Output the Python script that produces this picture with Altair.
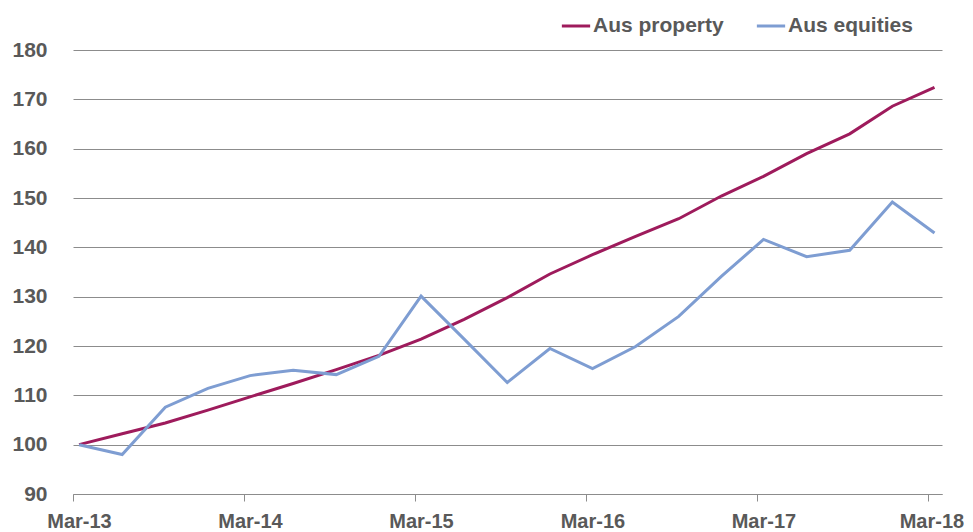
import altair as alt
import pandas as pd

dates = [
    "2013-03-14", "2013-06-14", "2013-09-14", "2013-12-14",
    "2014-03-14", "2014-06-14", "2014-09-14", "2014-12-14",
    "2015-03-14", "2015-06-14", "2015-09-14", "2015-12-14",
    "2016-03-14", "2016-06-14", "2016-09-14", "2016-12-14",
    "2017-03-14", "2017-06-14", "2017-09-14", "2017-12-14",
    "2018-03-14",
]
aus_property = [100, 102.2, 104.4, 107.0, 109.7, 112.4, 115.2, 118.1, 121.4, 125.4,
                129.8, 134.6, 138.5, 142.2, 145.8, 150.4, 154.4, 159.0, 163.0, 168.6, 172.4]
aus_equities = [100, 98.0, 107.6, 111.4, 114.0, 115.1, 114.2, 117.9, 130.1, 121.4,
                112.6, 119.5, 115.4, 119.9, 126.0, 134.1, 141.6, 138.1, 139.4, 149.2, 142.9]
series_names = ["Aus property", "Aus equities"]
series_colors = ["#9E1B5C", "#7E9DD2"]
y_ticks = [90, 100, 110, 120, 130, 140, 150, 160, 170, 180]
x_tick_dates = ["2013-03-01", "2014-03-01", "2015-03-01", "2016-03-01", "2017-03-01", "2018-03-01"]

rows = []
for d, p, e in zip(dates, aus_property, aus_equities):
    rows.append({"date": d, "series": series_names[0], "value": p})
    rows.append({"date": d, "series": series_names[1], "value": e})
df = pd.DataFrame(rows)

FONT = "Liberation Sans"
TXT = "#595959"

x_vals = [alt.DateTime(year=int(s[:4]), month=3, date=1) for s in x_tick_dates]

chart = alt.Chart(df).mark_line(strokeWidth=3).encode(
    x=alt.X("date:T",
            scale=alt.Scale(domain=[alt.DateTime(year=2013, month=3, date=1),
                                    alt.DateTime(year=2018, month=3, date=30)]),
            axis=alt.Axis(values=x_vals, format="%b-%y", title=None, grid=False,
                          domainColor="#8c8c8c", tickColor="#8c8c8c", tickSize=7,
                          labelFlush=False, labelOverlap=False,
                          labelOffset={"condition": {"test": "year(datum.value) >= 2018", "value": 3},
                                       "value": 6},
                          labelPadding=10, labelFontSize=20,
                          labelFontWeight="bold", labelColor=TXT, labelFont=FONT)),
    y=alt.Y("value:Q",
            scale=alt.Scale(domain=[90, 180], nice=False, zero=False),
            axis=alt.Axis(values=y_ticks, title=None, domain=False, ticks=False,
                          gridColor="#8c8c8c", gridWidth=1, labelPadding=26,
                          labelFontSize=21, labelFontWeight="bold",
                          labelColor=TXT, labelFont=FONT)),
    color=alt.Color("series:N",
                    scale=alt.Scale(domain=series_names, range=series_colors),
                    legend=alt.Legend(title=None, orient="none", legendX=487, legendY=-40,
                                      direction="horizontal", symbolType="stroke",
                                      symbolStrokeWidth=3, symbolSize=800,
                                      labelFontSize=21, labelFontWeight="bold",
                                      labelColor=TXT, labelFont=FONT, labelOffset=1,
                                      columnPadding=26)),
).properties(
    width=869, height=444,
    padding={"left": 65, "top": 42, "right": 22, "bottom": 38},
    autosize=alt.AutoSizeParams(type="none"),
).configure_view(stroke=None)

chart.save("out.html", embed_options={"renderer": "svg", "actions": False})
